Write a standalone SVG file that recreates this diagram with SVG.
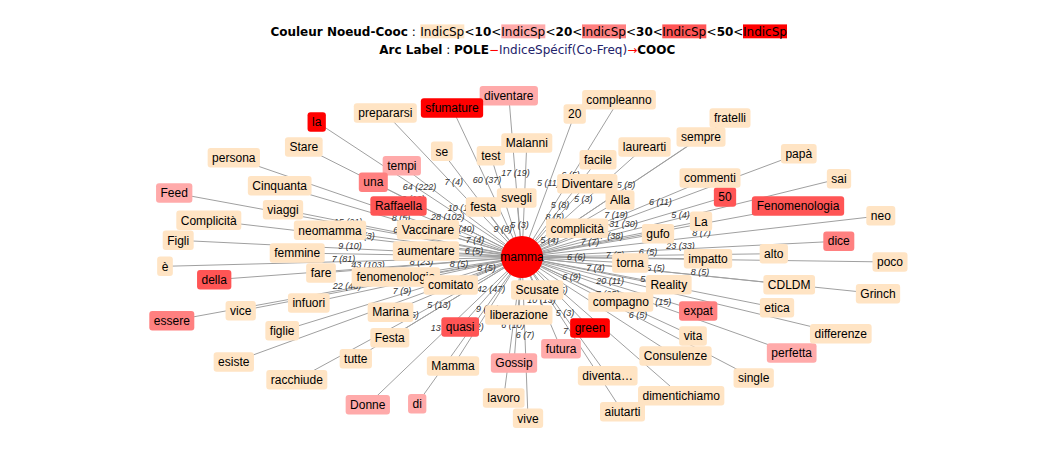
<svg xmlns="http://www.w3.org/2000/svg" width="1064" height="476" viewBox="0 0 1064 476">
<style>
.hd{font-family:"DejaVu Sans",Verdana,sans-serif;font-size:12px;fill:#000}
.b{font-weight:bold}
.rd{fill:#ff0000}
.bl{fill:#22226a}
#connectors line{stroke:#a0a0a0;stroke-width:1}
.el{font-family:"Liberation Sans",Arial,sans-serif;font-size:9px;font-style:italic;fill:#333;text-anchor:middle}
.nd rect{rx:3;ry:3}
.nd text{font-family:"Liberation Sans",Arial,sans-serif;font-size:12px;fill:#000;text-anchor:middle}
.c0 rect{fill:#ffe4c4}
.c1 rect{fill:#ffaaaa}
.c2 rect{fill:#ff8080}
.c3 rect{fill:#ff5555}
.c4 rect{fill:#ff0000}
</style>
<rect width="1064" height="476" fill="#ffffff"/>
<g id="legend">
<rect x="420.3" y="24.4" width="44" height="13.9" fill="#ffe4c4"/>
<rect x="501.3" y="24.4" width="44" height="13.9" fill="#ffaaaa"/>
<rect x="582" y="24.4" width="44" height="13.9" fill="#ff8080"/>
<rect x="662.3" y="24.4" width="44" height="13.9" fill="#ff5555"/>
<rect x="743" y="24.4" width="44" height="13.9" fill="#ff0000"/>
<text class="hd" y="35.5"><tspan x="270.4" class="b">Couleur Noeud-Cooc</tspan><tspan> : </tspan><tspan x="420.3">IndicSp</tspan><tspan x="464.5">&lt;</tspan><tspan class="b">10</tspan><tspan>&lt;</tspan><tspan x="501.3">IndicSp</tspan><tspan x="545.5">&lt;</tspan><tspan class="b">20</tspan><tspan>&lt;</tspan><tspan x="582">IndicSp</tspan><tspan x="626">&lt;</tspan><tspan class="b">30</tspan><tspan>&lt;</tspan><tspan x="662.3">IndicSp</tspan><tspan x="706.6">&lt;</tspan><tspan class="b">50</tspan><tspan>&lt;</tspan><tspan x="743">IndicSp</tspan></text>
<text class="hd" y="54"><tspan x="379.3" class="b">Arc Label</tspan><tspan> : </tspan><tspan class="b">POLE</tspan><tspan class="rd">−</tspan><tspan class="bl">IndiceSpécif(Co-Freq)</tspan><tspan class="rd">→</tspan><tspan class="b">COOC</tspan></text>
</g>
<g id="connectors">
<line x1="522" y1="257" x2="316.7" y2="122"/>
<line x1="522" y1="257" x2="303.8" y2="147"/>
<line x1="522" y1="257" x2="233.8" y2="157.8"/>
<line x1="522" y1="257" x2="279.7" y2="185.7"/>
<line x1="522" y1="257" x2="174.2" y2="193"/>
<line x1="522" y1="257" x2="283" y2="209.7"/>
<line x1="522" y1="257" x2="208.8" y2="220.3"/>
<line x1="522" y1="257" x2="330" y2="230.3"/>
<line x1="522" y1="257" x2="178.2" y2="240.3"/>
<line x1="522" y1="257" x2="297.2" y2="253"/>
<line x1="522" y1="257" x2="165" y2="266.3"/>
<line x1="522" y1="257" x2="214.2" y2="279.7"/>
<line x1="522" y1="257" x2="321" y2="273"/>
<line x1="522" y1="257" x2="395.8" y2="277"/>
<line x1="522" y1="257" x2="450.8" y2="285"/>
<line x1="522" y1="257" x2="308.8" y2="303"/>
<line x1="522" y1="257" x2="240.7" y2="310.8"/>
<line x1="522" y1="257" x2="171.8" y2="320.8"/>
<line x1="522" y1="257" x2="390.5" y2="312.2"/>
<line x1="522" y1="257" x2="282.2" y2="330.8"/>
<line x1="522" y1="257" x2="389.8" y2="337.8"/>
<line x1="522" y1="257" x2="233.8" y2="362"/>
<line x1="522" y1="257" x2="355.8" y2="358.7"/>
<line x1="522" y1="257" x2="296.8" y2="379.7"/>
<line x1="522" y1="257" x2="367.8" y2="404.7"/>
<line x1="522" y1="257" x2="417.2" y2="403.7"/>
<line x1="522" y1="257" x2="460.2" y2="327"/>
<line x1="522" y1="257" x2="453" y2="366"/>
<line x1="522" y1="257" x2="514" y2="363"/>
<line x1="522" y1="257" x2="518.8" y2="315"/>
<line x1="522" y1="257" x2="537.2" y2="290"/>
<line x1="522" y1="257" x2="503.7" y2="398"/>
<line x1="522" y1="257" x2="528" y2="418.3"/>
<line x1="522" y1="257" x2="561" y2="348.7"/>
<line x1="522" y1="257" x2="590" y2="328"/>
<line x1="522" y1="257" x2="607.7" y2="375.8"/>
<line x1="522" y1="257" x2="622.5" y2="411.7"/>
<line x1="522" y1="257" x2="681.2" y2="395.8"/>
<line x1="522" y1="257" x2="675.5" y2="356"/>
<line x1="522" y1="257" x2="620.8" y2="302"/>
<line x1="522" y1="257" x2="693" y2="336"/>
<line x1="522" y1="257" x2="698.2" y2="311"/>
<line x1="522" y1="257" x2="753.7" y2="378"/>
<line x1="522" y1="257" x2="791.7" y2="353"/>
<line x1="522" y1="257" x2="840.8" y2="333.7"/>
<line x1="522" y1="257" x2="777" y2="307.8"/>
<line x1="522" y1="257" x2="668.8" y2="284.7"/>
<line x1="522" y1="257" x2="878" y2="293.7"/>
<line x1="522" y1="257" x2="789.2" y2="284.7"/>
<line x1="522" y1="257" x2="890" y2="262"/>
<line x1="522" y1="257" x2="630.3" y2="263"/>
<line x1="522" y1="257" x2="708" y2="258.8"/>
<line x1="522" y1="257" x2="773.8" y2="253.7"/>
<line x1="522" y1="257" x2="838.8" y2="241.2"/>
<line x1="522" y1="257" x2="880.8" y2="215.8"/>
<line x1="522" y1="257" x2="658" y2="233.7"/>
<line x1="522" y1="257" x2="701" y2="221.3"/>
<line x1="522" y1="257" x2="798" y2="206"/>
<line x1="522" y1="257" x2="725" y2="197"/>
<line x1="522" y1="257" x2="839" y2="178.8"/>
<line x1="522" y1="257" x2="798.8" y2="153.7"/>
<line x1="522" y1="257" x2="710" y2="178"/>
<line x1="522" y1="257" x2="577.2" y2="228.3"/>
<line x1="522" y1="257" x2="620" y2="200"/>
<line x1="522" y1="257" x2="587.3" y2="183.8"/>
<line x1="522" y1="257" x2="598" y2="159.7"/>
<line x1="522" y1="257" x2="644.5" y2="147"/>
<line x1="522" y1="257" x2="701" y2="137"/>
<line x1="522" y1="257" x2="730" y2="118"/>
<line x1="522" y1="257" x2="619" y2="99.7"/>
<line x1="522" y1="257" x2="574.7" y2="114"/>
<line x1="522" y1="257" x2="526.8" y2="143"/>
<line x1="522" y1="257" x2="508.8" y2="95.7"/>
<line x1="522" y1="257" x2="490.8" y2="155.8"/>
<line x1="522" y1="257" x2="516.7" y2="198"/>
<line x1="522" y1="257" x2="452" y2="108"/>
<line x1="522" y1="257" x2="441.8" y2="151.3"/>
<line x1="522" y1="257" x2="483.3" y2="207"/>
<line x1="522" y1="257" x2="385.3" y2="113"/>
<line x1="522" y1="257" x2="401.8" y2="165.8"/>
<line x1="522" y1="257" x2="373.3" y2="182.2"/>
<line x1="522" y1="257" x2="398.5" y2="206"/>
<line x1="522" y1="257" x2="428" y2="229.7"/>
<line x1="522" y1="257" x2="426" y2="251"/>
</g>
<g id="edge-labels">
<text class="el" x="419.4" y="189.5">64 (222)</text>
<text class="el" x="412.9" y="202">6 (12)</text>
<text class="el" x="400.9" y="221.4">8 (5)</text>
<text class="el" x="348.1" y="225">15 (21)</text>
<text class="el" x="402.5" y="233.4">6 (5)</text>
<text class="el" x="365.4" y="238.7">5 (3)</text>
<text class="el" x="350.1" y="248.7">9 (10)</text>
<text class="el" x="343.5" y="261.7">7 (81)</text>
<text class="el" x="368.1" y="268.4">43 (103)</text>
<text class="el" x="421.5" y="265">8 (23)</text>
<text class="el" x="458.9" y="267">8 (5)</text>
<text class="el" x="486.4" y="271">8 (5)</text>
<text class="el" x="346.9" y="288.9">22 (48)</text>
<text class="el" x="402.1" y="293.9">7 (9)</text>
<text class="el" x="438.9" y="307.9">5 (13)</text>
<text class="el" x="409.4" y="318.4">6 (5)</text>
<text class="el" x="444.9" y="330.9">13 (15)</text>
<text class="el" x="469.6" y="330.4">12 (12)</text>
<text class="el" x="491.1" y="292">42 (47)</text>
<text class="el" x="487.5" y="311.5">9 (11)</text>
<text class="el" x="512.9" y="327.5">6 (10)</text>
<text class="el" x="525" y="337.7">6 (7)</text>
<text class="el" x="541.5" y="302.9">10 (13)</text>
<text class="el" x="556" y="292.5">55 (5)</text>
<text class="el" x="564.9" y="316.4">5 (3)</text>
<text class="el" x="572.3" y="334.4">7 (6)</text>
<text class="el" x="571.4" y="279.5">6 (9)</text>
<text class="el" x="607.5" y="296.5">7 (25)</text>
<text class="el" x="610.1" y="284">20 (11)</text>
<text class="el" x="637.9" y="317.5">6 (5)</text>
<text class="el" x="656.9" y="305">12 (15)</text>
<text class="el" x="649.5" y="282.4">5 (4)</text>
<text class="el" x="595.4" y="270.9">7 (4)</text>
<text class="el" x="700" y="275.4">8 (5)</text>
<text class="el" x="655.6" y="270.9">5 (5)</text>
<text class="el" x="576.2" y="260">6 (6)</text>
<text class="el" x="615" y="257.9">7 (5)</text>
<text class="el" x="647.9" y="255.4">6 (5)</text>
<text class="el" x="680.4" y="249.1">23 (33)</text>
<text class="el" x="701.4" y="236.4">8 (7)</text>
<text class="el" x="590" y="245.4">7 (7)</text>
<text class="el" x="611.5" y="239.2">7 (38)</text>
<text class="el" x="623.5" y="227">31 (30)</text>
<text class="el" x="680.5" y="217.9">5 (4)</text>
<text class="el" x="660.4" y="205.4">6 (11)</text>
<text class="el" x="616" y="217.5">7 (19)</text>
<text class="el" x="549.6" y="242.7">5 (4)</text>
<text class="el" x="554.7" y="220.4">8 (5)</text>
<text class="el" x="560" y="208.4">5 (8)</text>
<text class="el" x="583.3" y="202">5 (3)</text>
<text class="el" x="626" y="187.5">5 (5)</text>
<text class="el" x="570.5" y="178.4">6 (5)</text>
<text class="el" x="548.4" y="185.5">5 (11)</text>
<text class="el" x="515.4" y="176.4">17 (19)</text>
<text class="el" x="519.4" y="227.5">5 (3)</text>
<text class="el" x="487" y="182.5">60 (37)</text>
<text class="el" x="502.7" y="232">9 (8)</text>
<text class="el" x="453.7" y="185">7 (4)</text>
<text class="el" x="461.9" y="211.4">10 (14)</text>
<text class="el" x="447.7" y="219.6">28 (102)</text>
<text class="el" x="460.3" y="231.5">36 (40)</text>
<text class="el" x="475" y="243.4">7 (4)</text>
<text class="el" x="474" y="254">6 (5)</text>
</g>
<g id="nodes">
<g id="n-la" class="nd c4"><rect x="307.55" y="112.25" width="18.3" height="19.5"/><text x="316.7" y="126.2">la</text></g>
<g id="n-Stare" class="nd c0"><rect x="284.95" y="137.25" width="37.7" height="19.5"/><text x="303.8" y="151.2">Stare</text></g>
<g id="n-persona" class="nd c0"><rect x="207.65" y="148.05" width="52.3" height="19.5"/><text x="233.8" y="162">persona</text></g>
<g id="n-Cinquanta" class="nd c0"><rect x="247.85" y="175.95" width="63.7" height="19.5"/><text x="279.7" y="189.9">Cinquanta</text></g>
<g id="n-Feed" class="nd c1"><rect x="156.05" y="183.25" width="36.3" height="19.5"/><text x="174.2" y="197.2">Feed</text></g>
<g id="n-viaggi" class="nd c0"><rect x="262.85" y="199.95" width="40.3" height="19.5"/><text x="283" y="213.9">viaggi</text></g>
<g id="n-Complicita" class="nd c0"><rect x="176.3" y="210.55" width="65" height="19.5"/><text x="208.8" y="224.5">Complicità</text></g>
<g id="n-neomamma" class="nd c0"><rect x="293.85" y="220.55" width="72.3" height="19.5"/><text x="330" y="234.5">neomamma</text></g>
<g id="n-Figli" class="nd c0"><rect x="162.7" y="230.55" width="31" height="19.5"/><text x="178.2" y="244.5">Figli</text></g>
<g id="n-femmine" class="nd c0"><rect x="269.7" y="243.25" width="55" height="19.5"/><text x="297.2" y="257.2">femmine</text></g>
<g id="n-e" class="nd c0"><rect x="157.15" y="256.55" width="15.7" height="19.5"/><text x="165" y="270.5">è</text></g>
<g id="n-della" class="nd c3"><rect x="197.05" y="269.95" width="34.3" height="19.5"/><text x="214.2" y="283.9">della</text></g>
<g id="n-fare" class="nd c0"><rect x="306.15" y="263.25" width="29.7" height="19.5"/><text x="321" y="277.2">fare</text></g>
<g id="n-fenomenologia" class="nd c0"><rect x="351.65" y="267.25" width="88.3" height="19.5"/><text x="395.8" y="281.2">fenomenologia</text></g>
<g id="n-comitato" class="nd c0"><rect x="423.65" y="275.25" width="54.3" height="19.5"/><text x="450.8" y="289.2">comitato</text></g>
<g id="n-infuori" class="nd c0"><rect x="287.95" y="293.25" width="41.7" height="19.5"/><text x="308.8" y="307.2">infuori</text></g>
<g id="n-vice" class="nd c0"><rect x="225.55" y="301.05" width="30.3" height="19.5"/><text x="240.7" y="315">vice</text></g>
<g id="n-essere" class="nd c2"><rect x="149.3" y="311.05" width="45" height="19.5"/><text x="171.8" y="325">essere</text></g>
<g id="n-Marina" class="nd c0"><rect x="367.65" y="302.45" width="45.7" height="19.5"/><text x="390.5" y="316.4">Marina</text></g>
<g id="n-figlie" class="nd c0"><rect x="265.35" y="321.05" width="33.7" height="19.5"/><text x="282.2" y="335">figlie</text></g>
<g id="n-Festa" class="nd c0"><rect x="370.3" y="328.05" width="39" height="19.5"/><text x="389.8" y="342">Festa</text></g>
<g id="n-esiste" class="nd c0"><rect x="213.65" y="352.25" width="40.3" height="19.5"/><text x="233.8" y="366.2">esiste</text></g>
<g id="n-tutte" class="nd c0"><rect x="339.65" y="348.95" width="32.3" height="19.5"/><text x="355.8" y="362.9">tutte</text></g>
<g id="n-racchiude" class="nd c0"><rect x="266.3" y="369.95" width="61" height="19.5"/><text x="296.8" y="383.9">racchiude</text></g>
<g id="n-Donne" class="nd c1"><rect x="345.65" y="394.95" width="44.3" height="19.5"/><text x="367.8" y="408.9">Donne</text></g>
<g id="n-di" class="nd c1"><rect x="408.05" y="393.95" width="18.3" height="19.5"/><text x="417.2" y="407.9">di</text></g>
<g id="n-quasi" class="nd c3"><rect x="441.35" y="317.25" width="37.7" height="19.5"/><text x="460.2" y="331.2">quasi</text></g>
<g id="n-Mamma" class="nd c0"><rect x="426.85" y="356.25" width="52.3" height="19.5"/><text x="453" y="370.2">Mamma</text></g>
<g id="n-Gossip" class="nd c1"><rect x="490.85" y="353.25" width="46.3" height="19.5"/><text x="514" y="367.2">Gossip</text></g>
<g id="n-liberazione" class="nd c0"><rect x="485.15" y="305.25" width="67.3" height="19.5"/><text x="518.8" y="319.2">liberazione</text></g>
<g id="n-Scusate" class="nd c0"><rect x="511.05" y="280.25" width="52.3" height="19.5"/><text x="537.2" y="294.2">Scusate</text></g>
<g id="n-lavoro" class="nd c0"><rect x="482.85" y="388.25" width="41.7" height="19.5"/><text x="503.7" y="402.2">lavoro</text></g>
<g id="n-vive" class="nd c0"><rect x="512.85" y="408.55" width="30.3" height="19.5"/><text x="528" y="422.5">vive</text></g>
<g id="n-futura" class="nd c1"><rect x="541.15" y="338.95" width="39.7" height="19.5"/><text x="561" y="352.9">futura</text></g>
<g id="n-green" class="nd c4"><rect x="570.15" y="318.25" width="39.7" height="19.5"/><text x="590" y="332.2">green</text></g>
<g id="n-diventa" class="nd c0"><rect x="577.85" y="366.05" width="59.7" height="19.5"/><text x="607.7" y="380">diventa…</text></g>
<g id="n-aiutarti" class="nd c0"><rect x="600" y="401.95" width="45" height="19.5"/><text x="622.5" y="415.9">aiutarti</text></g>
<g id="n-dimentichiamo" class="nd c0"><rect x="638.05" y="386.05" width="86.3" height="19.5"/><text x="681.2" y="400">dimentichiamo</text></g>
<g id="n-Consulenze" class="nd c0"><rect x="639.35" y="346.25" width="72.3" height="19.5"/><text x="675.5" y="360.2">Consulenze</text></g>
<g id="n-compagno" class="nd c0"><rect x="588.3" y="292.25" width="65" height="19.5"/><text x="620.8" y="306.2">compagno</text></g>
<g id="n-vita" class="nd c0"><rect x="679.15" y="326.25" width="27.7" height="19.5"/><text x="693" y="340.2">vita</text></g>
<g id="n-expat" class="nd c2"><rect x="679.05" y="301.25" width="38.3" height="19.5"/><text x="698.2" y="315.2">expat</text></g>
<g id="n-single" class="nd c0"><rect x="733.55" y="368.25" width="40.3" height="19.5"/><text x="753.7" y="382.2">single</text></g>
<g id="n-perfetta" class="nd c1"><rect x="766.85" y="343.25" width="49.7" height="19.5"/><text x="791.7" y="357.2">perfetta</text></g>
<g id="n-differenze" class="nd c0"><rect x="809.95" y="323.95" width="61.7" height="19.5"/><text x="840.8" y="337.9">differenze</text></g>
<g id="n-etica" class="nd c0"><rect x="759.85" y="298.05" width="34.3" height="19.5"/><text x="777" y="312">etica</text></g>
<g id="n-Reality" class="nd c0"><rect x="645.95" y="274.95" width="45.7" height="19.5"/><text x="668.8" y="288.9">Reality</text></g>
<g id="n-Grinch" class="nd c0"><rect x="855.85" y="283.95" width="44.3" height="19.5"/><text x="878" y="297.9">Grinch</text></g>
<g id="n-CDLDM" class="nd c0"><rect x="763.35" y="274.95" width="51.7" height="19.5"/><text x="789.2" y="288.9">CDLDM</text></g>
<g id="n-poco" class="nd c0"><rect x="872.5" y="252.25" width="35" height="19.5"/><text x="890" y="266.2">poco</text></g>
<g id="n-torna" class="nd c0"><rect x="612.15" y="253.25" width="36.3" height="19.5"/><text x="630.3" y="267.2">torna</text></g>
<g id="n-impatto" class="nd c0"><rect x="683.85" y="249.05" width="48.3" height="19.5"/><text x="708" y="263">impatto</text></g>
<g id="n-alto" class="nd c0"><rect x="759.65" y="243.95" width="28.3" height="19.5"/><text x="773.8" y="257.9">alto</text></g>
<g id="n-dice" class="nd c2"><rect x="823.3" y="231.45" width="31" height="19.5"/><text x="838.8" y="245.4">dice</text></g>
<g id="n-neo" class="nd c0"><rect x="866.3" y="206.05" width="29" height="19.5"/><text x="880.8" y="220">neo</text></g>
<g id="n-gufo" class="nd c0"><rect x="641.85" y="223.95" width="32.3" height="19.5"/><text x="658" y="237.9">gufo</text></g>
<g id="n-La" class="nd c0"><rect x="689.85" y="211.55" width="22.3" height="19.5"/><text x="701" y="225.5">La</text></g>
<g id="n-Fenomenologia" class="nd c3"><rect x="751.85" y="196.25" width="92.3" height="19.5"/><text x="798" y="210.2">Fenomenologia</text></g>
<g id="n-50" class="nd c3"><rect x="713.85" y="187.25" width="22.3" height="19.5"/><text x="725" y="201.2">50</text></g>
<g id="n-sai" class="nd c0"><rect x="826.85" y="169.05" width="24.3" height="19.5"/><text x="839" y="183">sai</text></g>
<g id="n-papa" class="nd c0"><rect x="780.95" y="143.95" width="35.7" height="19.5"/><text x="798.8" y="157.9">papà</text></g>
<g id="n-commenti" class="nd c0"><rect x="679.5" y="168.25" width="61" height="19.5"/><text x="710" y="182.2">commenti</text></g>
<g id="n-complicita" class="nd c0"><rect x="546.05" y="218.55" width="62.3" height="19.5"/><text x="577.2" y="232.5">complicità</text></g>
<g id="n-Diventare" class="nd c0"><rect x="557.15" y="174.05" width="60.3" height="19.5"/><text x="587.3" y="188">Diventare</text></g>
<g id="n-Alla" class="nd c0"><rect x="605.5" y="190.25" width="29" height="19.5"/><text x="620" y="204.2">Alla</text></g>
<g id="n-facile" class="nd c0"><rect x="579.5" y="149.95" width="37" height="19.5"/><text x="598" y="163.9">facile</text></g>
<g id="n-laurearti" class="nd c0"><rect x="618.35" y="137.25" width="52.3" height="19.5"/><text x="644.5" y="151.2">laurearti</text></g>
<g id="n-sempre" class="nd c0"><rect x="676.5" y="127.25" width="49" height="19.5"/><text x="701" y="141.2">sempre</text></g>
<g id="n-fratelli" class="nd c0"><rect x="709.5" y="108.25" width="41" height="19.5"/><text x="730" y="122.2">fratelli</text></g>
<g id="n-compleanno" class="nd c0"><rect x="582.15" y="89.95" width="73.7" height="19.5"/><text x="619" y="103.9">compleanno</text></g>
<g id="n-20" class="nd c0"><rect x="563.55" y="104.25" width="22.3" height="19.5"/><text x="574.7" y="118.2">20</text></g>
<g id="n-test" class="nd c0"><rect x="476.65" y="146.05" width="28.3" height="19.5"/><text x="490.8" y="160">test</text></g>
<g id="n-Malanni" class="nd c0"><rect x="501.3" y="133.25" width="51" height="19.5"/><text x="526.8" y="147.2">Malanni</text></g>
<g id="n-diventare" class="nd c1"><rect x="479.65" y="85.95" width="58.3" height="19.5"/><text x="508.8" y="99.9">diventare</text></g>
<g id="n-svegli" class="nd c0"><rect x="496.85" y="188.25" width="39.7" height="19.5"/><text x="516.7" y="202.2">svegli</text></g>
<g id="n-sfumature" class="nd c4"><rect x="420.85" y="98.25" width="62.3" height="19.5"/><text x="452" y="112.2">sfumature</text></g>
<g id="n-se" class="nd c0"><rect x="430.95" y="141.55" width="21.7" height="19.5"/><text x="441.8" y="155.5">se</text></g>
<g id="n-festa" class="nd c0"><rect x="465.8" y="197.25" width="35" height="19.5"/><text x="483.3" y="211.2">festa</text></g>
<g id="n-prepararsi" class="nd c0"><rect x="353.8" y="103.25" width="63" height="19.5"/><text x="385.3" y="117.2">prepararsi</text></g>
<g id="n-tempi" class="nd c1"><rect x="382.65" y="156.05" width="38.3" height="19.5"/><text x="401.8" y="170">tempi</text></g>
<g id="n-una" class="nd c2"><rect x="358.8" y="172.45" width="29" height="19.5"/><text x="373.3" y="186.4">una</text></g>
<g id="n-Raffaella" class="nd c3"><rect x="370.35" y="196.25" width="56.3" height="19.5"/><text x="398.5" y="210.2">Raffaella</text></g>
<g id="n-Vaccinare" class="nd c0"><rect x="396.85" y="219.95" width="62.3" height="19.5"/><text x="428" y="233.9">Vaccinare</text></g>
<g id="n-aumentare" class="nd c0"><rect x="392.85" y="241.25" width="66.3" height="19.5"/><text x="426" y="255.2">aumentare</text></g>
<g id="n-mamma" class="nd"><circle cx="522" cy="257" r="21" fill="#ff0000"/><text x="522" y="261.2">mamma</text></g>
</g>
</svg>
